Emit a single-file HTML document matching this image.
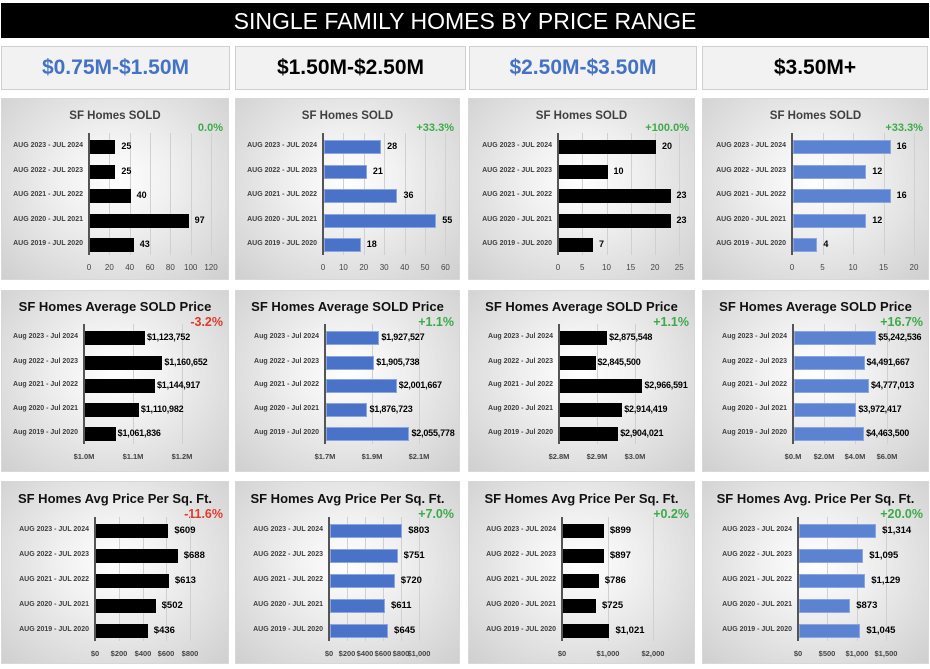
<!DOCTYPE html>
<html><head><meta charset="utf-8"><style>
body{margin:0;width:930px;height:669px;background:#fff;position:relative;overflow:hidden;font-family:"Liberation Sans",sans-serif}
.a{position:absolute;white-space:nowrap}
.panel{position:absolute;background:radial-gradient(ellipse at 50% 45%,#ffffff 0%,#f0f0f0 35%,#cfcfcf 100%);border:1px solid #d8d8d8;box-sizing:border-box}
.hdr{position:absolute;background:#f2f2f2;border:1px solid #cfcfcf;box-sizing:border-box;font-weight:bold;font-size:21px;text-align:center;line-height:42px}
</style></head><body>
<div class="a" style="left:1px;top:3px;width:928px;height:35px;background:#000;color:#fff;font-size:23px;text-align:center;line-height:36px">SINGLE FAMILY HOMES BY PRICE RANGE</div>
<div class="hdr" style="left:1px;top:46px;width:229px;height:44px;color:#4472c4">$0.75M-$1.50M</div>
<div class="hdr" style="left:235px;top:46px;width:231px;height:44px;color:#000">$1.50M-$2.50M</div>
<div class="hdr" style="left:469px;top:46px;width:228px;height:44px;color:#4472c4">$2.50M-$3.50M</div>
<div class="hdr" style="left:702px;top:46px;width:226px;height:44px;color:#000">$3.50M+</div>
<div id="root"></div>
<script>
const cU=["AUG 2023 - JUL 2024","AUG 2022 - JUL 2023","AUG 2021 - JUL 2022","AUG 2020 - JUL 2021","AUG 2019 - JUL 2020"];
const cL=["Aug 2023 - Jul 2024","Aug 2022 - Jul 2023","Aug 2021 - Jul 2022","Aug 2020 - Jul 2021","Aug 2019 - Jul 2020"];
const G="#3daa4a",R="#e03a2e",K="#000",B="#4a72c8",B2="#5c82d2";
const cols=[[1,229],[235,460],[468,695],[702,929]];
const rows=[[98,280,118,129,[147,172,196,221,245],269,cU],[290,472,307,322,[338,363,386,410,434],458,cL],[481,664,499,514,[531,556,581,606,631],655,cU]];
function fm(v){return v.toLocaleString('en-US')}
const P=[
{r:0,c:0,t:"SF Homes SOLD",p:"0.0%",pc:G,col:K,v:[25,25,40,97,43],ax:89,s:1.017,mn:0,ticks:[0,20,40,60,80,100,120],tf:x=>x,lf:x=>x},
{r:0,c:1,t:"SF Homes SOLD",p:"+33.3%",pc:G,col:B,v:[28,21,36,55,18],ax:323,s:2.04,mn:0,ticks:[0,10,20,30,40,50,60],tf:x=>x,lf:x=>x},
{r:0,c:2,t:"SF Homes SOLD",p:"+100.0%",pc:G,col:K,v:[20,10,23,23,7],ax:558,s:4.85,mn:0,ticks:[0,5,10,15,20,25],tf:x=>x,lf:x=>x},
{r:0,c:3,t:"SF Homes SOLD",p:"+33.3%",pc:G,col:B2,v:[16,12,16,12,4],ax:792,s:6.1,mn:0,ticks:[0,5,10,15,20],tf:x=>x,lf:x=>x},
{r:1,c:0,t:"SF Homes Average SOLD Price",p:"-3.2%",pc:R,col:K,v:[1123752,1160652,1144917,1110982,1061836],ax:84,s:0.000473,mn:997000,tl:[["$1.0M",84],["$1.1M",133],["$1.2M",182]],lf:x=>"$"+fm(x)},
{r:1,c:1,t:"SF Homes Average SOLD Price",p:"+1.1%",pc:G,col:B,v:[1927527,1905738,2001667,1876723,2055778],ax:325,s:0.0002346,mn:1700000,tl:[["$1.7M",325],["$1.9M",372],["$2.1M",419]],lf:x=>"$"+fm(x)},
{r:1,c:2,t:"SF Homes Average SOLD Price",p:"+1.1%",pc:G,col:K,v:[2875548,2845500,2966591,2914419,2904021],ax:559,s:0.000388,mn:2754000,tl:[["$2.8M",559],["$2.9M",597],["$3.0M",635]],lf:x=>"$"+fm(x)},
{r:1,c:3,t:"SF Homes Average SOLD Price",p:"+16.7%",pc:G,col:B2,v:[5242536,4491667,4777013,3972417,4463500],ax:793,s:0.0000157,mn:0,tl:[["$0.M",793],["$2.0M",824],["$4.0M",855],["$6.0M",887]],lf:x=>"$"+fm(x)},
{r:2,c:0,t:"SF Homes Avg Price Per Sq. Ft.",p:"-11.6%",pc:R,col:K,v:[609,688,613,502,436],ax:95,s:0.1188,mn:0,tl:[["$0",95],["$200",119],["$400",143],["$600",166],["$800",190]],lf:x=>"$"+fm(x)},
{r:2,c:1,t:"SF Homes Avg Price Per Sq. Ft.",p:"+7.0%",pc:G,col:B,v:[803,751,720,611,645],ax:329,s:0.09,mn:0,tl:[["$0",329],["$200",347],["$400",365],["$600",383],["$800",401],["$1,000",419]],lf:x=>"$"+fm(x)},
{r:2,c:2,t:"SF Homes Avg Price Per Sq. Ft.",p:"+0.2%",pc:G,col:K,v:[899,897,786,725,1021],ax:562,s:0.0455,mn:0,tl:[["$0",562],["$1,000",608],["$2,000",653]],lf:x=>"$"+fm(x)},
{r:2,c:3,t:"SF Homes Avg. Price Per Sq. Ft.",p:"+20.0%",pc:G,col:B2,v:[1314,1095,1129,873,1045],ax:798,s:0.0587,mn:0,tl:[["$0",798],["$500",827],["$1,000",857],["$1,500",886]],lf:x=>"$"+fm(x)}
];
let h="";
for(const p of P){
 const [x0,x1]=cols[p.c],[y0,y1,ty,py,ys,tky,cats]=rows[p.r];
 const big=p.r>0;
 h+=`<div class="panel" style="left:${x0}px;top:${y0}px;width:${x1-x0}px;height:${y1-y0}px"></div>`;
 h+=`<div class="a" style="left:${x0}px;width:${x1-x0}px;top:${ty-8}px;text-align:center;font-weight:bold;font-size:${big?13:11.5}px;color:${big?'#111':'#404040'}">${p.t}</div>`;
 h+=`<div class="a" style="right:${930-x1+6}px;top:${py-7}px;font-weight:bold;font-size:${big?12.5:11}px;color:${p.pc}">${p.p}</div>`;
 const tl=p.tl||p.ticks.map(t=>[t,p.ax+(t-p.mn)*p.s]);
 const top=ys[0]-14,bot=ys[4]+10;
 for(const [l,x] of tl){
  if(x>p.ax+1)h+=`<div class="a" style="left:${x}px;top:${top}px;width:1px;height:${bot-top}px;background:#d0d0d0"></div>`;
  h+=`<div class="a" style="left:${x-20}px;width:40px;text-align:center;top:${tky-6}px;font-size:${big?7.5:8}px;${big?'font-weight:bold;':''}color:#444">${l}</div>`;
 }
 h+=`<div class="a" style="left:${p.ax-1}px;top:${top}px;width:2px;height:${bot-top}px;background:#555"></div>`;
 for(let i=0;i<5;i++){
  const w=(p.v[i]-p.mn)*p.s,y=ys[i];
  const blue=p.col!==K;
  const fs=p.r==1?9:(big?9.5:9);
  const gap=p.r==1?3:7;
  h+=`<div class="a" style="left:${p.ax+1}px;top:${y-7}px;width:${w}px;height:14px;background:${p.col};${blue?'box-shadow:inset 0 0 0 1px #8aa6e0;':''}"></div>`;
  h+=`<div class="a" style="left:${p.ax+w+gap}px;top:${y-6}px;font-size:${fs}px;${p.r==1?'letter-spacing:-0.2px;':''}font-weight:bold;color:#000">${p.lf(p.v[i])}</div>`;
  h+=`<div class="a" style="right:${930-p.ax+6}px;top:${y-5}px;font-size:7px;font-weight:bold;color:#404040">${cats[i]}</div>`;
 }
}
document.getElementById('root').innerHTML=h;
</script>
</body></html>
